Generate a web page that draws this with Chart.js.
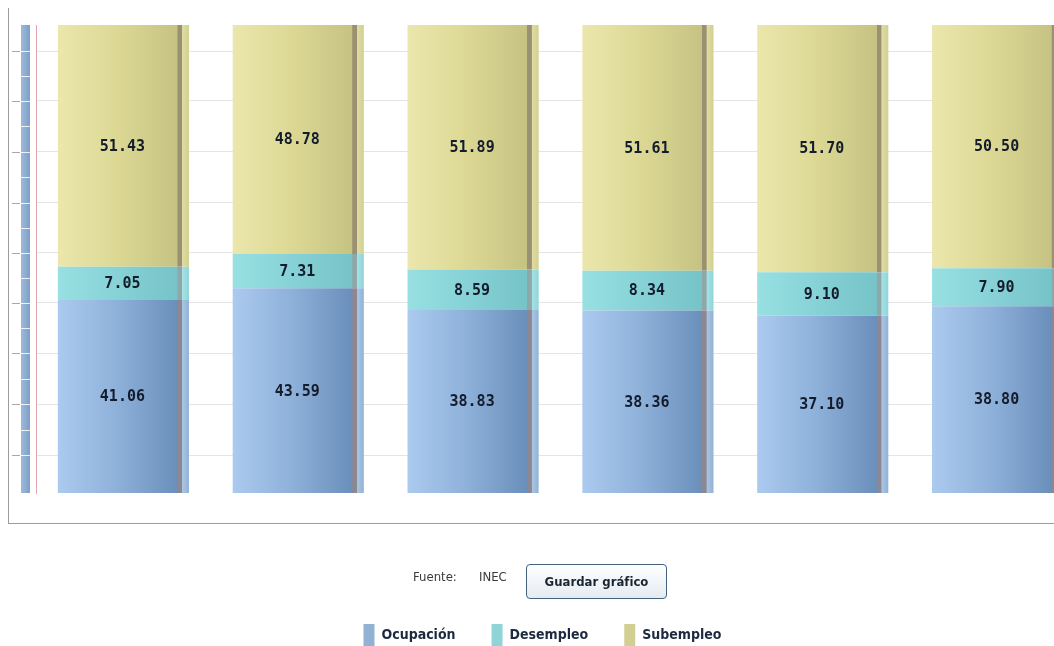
<!DOCTYPE html>
<html lang="es">
<head>
	<meta charset="UTF-8">
	<title>Ocupación, Desempleo, Subempleo</title>
	<script src="https://cdn.jsdelivr.net/npm/chart.js"></script>
	<style>
		body { margin: 0; background: #fff; overflow: hidden; width: 1054px; height: 646px; position: relative; }
		#marco { position: absolute; left: 8px; top: 8px; width: 1100px; height: 515px;
			border-left: 1px solid #9c9c9c; border-bottom: 1px solid #9c9c9c; }
		#grafico { position: absolute; left: 0; top: 0; }
		.fuente { position: absolute; top: 569px; font: 13px 'DejaVu Sans Condensed', sans-serif; color: #3a3a3a; }
		#guardar { position: absolute; left: 526px; top: 564px; width: 141px; height: 35px; box-sizing: border-box;
			border: 1px solid #46617c; border-radius: 4px; background: linear-gradient(#ffffff, #e4ebf2);
			font: bold 13px 'DejaVu Sans Condensed', sans-serif; color: #1b2431; text-align: center; line-height: 33px; }
	</style>
</head>
<body>
	<div id="marco"></div>
	<canvas id="grafico" width="1090" height="656"></canvas>
	<div class="fuente" style="left:413px">Fuente:</div>
	<div class="fuente" style="left:479px">INEC</div>
	<div id="guardar">Guardar gráfico</div>

	<script>
		// datos (6 periodos, sin etiquetas visibles)
		const periodos = ['1', '2', '3', '4', '5', '6'];
		const ocupacion = [41.06, 43.59, 38.83, 38.36, 37.10, 38.80];
		const desempleo = [7.05, 7.31, 8.59, 8.34, 9.10, 7.90];
		const subempleo = [51.43, 48.78, 51.89, 51.61, 51.70, 50.50];
		// lineas de la grilla (valores del eje y)
		const grilla = [8.1, 19.0, 29.9, 40.6, 51.3, 62.0, 72.9, 83.8, 94.4];

		const anchoBarra = 0.75;

		// el grafico original apila en porcentaje (cada barra llega al 100%)
		const totales = periodos.map((p, i) => ocupacion[i] + desempleo[i] + subempleo[i]);
		const pct = serie => serie.map((v, i) => v / totales[i] * 100);

		// colores de izquierda a derecha de cada barra (efecto cilindro)
		const tonos = {
			ocup: ['#abcaee', '#8eb1da', '#6a8fba', '#8c8790', '#a9c5e4', '#92b2d4'],
			desem: ['#98e0e2', '#86d2d6', '#76c3c8', '#8fa7a8', '#a4e2e4', '#90d4d8'],
			subem: ['#ebe7ad', '#dcd894', '#c6c282', '#9a9072', '#dedca0', '#d2cf92']
		};

		function relleno(t) {
			return function (c) {
				const chart = c.chart;
				const xs = chart.scales.x;
				if (c.dataIndex === undefined || !xs || !chart.chartArea) return t[1];
				const centro = xs.getPixelForValue(c.dataIndex);
				const medio = xs.width / periodos.length * anchoBarra / 2;
				const g = chart.ctx.createLinearGradient(centro - medio, 0, centro + medio, 0);
				g.addColorStop(0, t[0]);
				g.addColorStop(0.45, t[1]);
				g.addColorStop(0.91, t[2]);
				g.addColorStop(0.915, t[3]);
				g.addColorStop(0.945, t[3]);
				g.addColorStop(0.95, t[4]);
				g.addColorStop(1, t[5]);
				return g;
			};
		}

		// eje izquierdo decorado (barra azul con marcas)
		const ejeAzul = {
			id: 'ejeAzul',
			beforeDatasetsDraw(chart) {
				const { ctx, chartArea: a, scales: { y } } = chart;
				ctx.save();
				const g = ctx.createLinearGradient(a.left - 15, 0, a.left - 6, 0);
				g.addColorStop(0, '#9dbbdc');
				g.addColorStop(1, '#7d9ec6');
				ctx.fillStyle = g;
				ctx.fillRect(a.left - 15, a.top, 9, a.bottom - a.top);
				ctx.strokeStyle = 'rgba(255,255,255,0.85)';
				ctx.lineWidth = 1;
				const marcas = [];
				grilla.forEach((v, i) => {
					marcas.push(v);
					if (i + 1 < grilla.length) marcas.push((v + grilla[i + 1]) / 2);
				});
				marcas.forEach(v => {
					const py = Math.round(y.getPixelForValue(v)) + 0.5;
					ctx.beginPath(); ctx.moveTo(a.left - 15, py); ctx.lineTo(a.left - 6, py); ctx.stroke();
				});
				ctx.strokeStyle = '#a8a8a8';
				grilla.forEach(v => {
					const py = Math.round(y.getPixelForValue(v)) + 0.5;
					ctx.beginPath(); ctx.moveTo(a.left - 24, py); ctx.lineTo(a.left - 16, py); ctx.stroke();
				});
				ctx.restore();
			}
		};

		// valores (sin normalizar) dentro de cada segmento
		const crudos = [ocupacion, desempleo, subempleo];
		const valores = {
			id: 'valores',
			afterDatasetsDraw(chart) {
				const ctx = chart.ctx;
				ctx.save();
				ctx.font = "bold 15px 'DejaVu Sans Mono'";
				ctx.fillStyle = '#141c2c';
				ctx.textAlign = 'center';
				ctx.textBaseline = 'middle';
				chart.data.datasets.forEach((ds, i) => {
					chart.getDatasetMeta(i).data.forEach((el, j) => {
						ctx.fillText(crudos[i][j].toFixed(2), el.x - 1, (el.y + el.base) / 2 + 1);
					});
				});
				ctx.restore();
			}
		};

		const config = {
			type: 'bar',
			data: {
				labels: periodos,
				datasets: [
					{ label: 'Ocupación', data: pct(ocupacion), backgroundColor: relleno(tonos.ocup) },
					{ label: 'Desempleo', data: pct(desempleo), backgroundColor: relleno(tonos.desem) },
					{ label: 'Subempleo', data: pct(subempleo), backgroundColor: relleno(tonos.subem) }
				]
			},
			options: {
				responsive: false,
				animation: false,
				barPercentage: anchoBarra,
				categoryPercentage: 1,
				layout: { padding: { top: 25, right: 5, left: 0, bottom: 0 } },
				scales: {
					x: {
						stacked: true,
						grid: { display: false },
						border: { display: false },
						ticks: { display: false },
						afterFit: s => { s.height = 95; }
					},
					y: {
						stacked: true,
						min: 0,
						max: 100,
						afterBuildTicks: s => { s.ticks = grilla.map(v => ({ value: v })); },
						ticks: { display: false },
						grid: { color: '#e4e4e4', drawTicks: false },
						border: { display: true, color: '#e2a6b0' },
						afterFit: s => { s.width = 36; }
					}
				},
				plugins: {
					tooltip: { enabled: false },
					legend: {
						position: 'bottom',
						labels: {
							boxWidth: 11,
							boxHeight: 22,
							padding: 36,
							color: '#1c2a40',
							font: { family: "'DejaVu Sans Condensed'", size: 14, weight: 'bold' }
						}
					}
				}
			},
			plugins: [ejeAzul, valores]
		};

		new Chart(document.getElementById('grafico'), config);
	</script>
</body>
</html>
